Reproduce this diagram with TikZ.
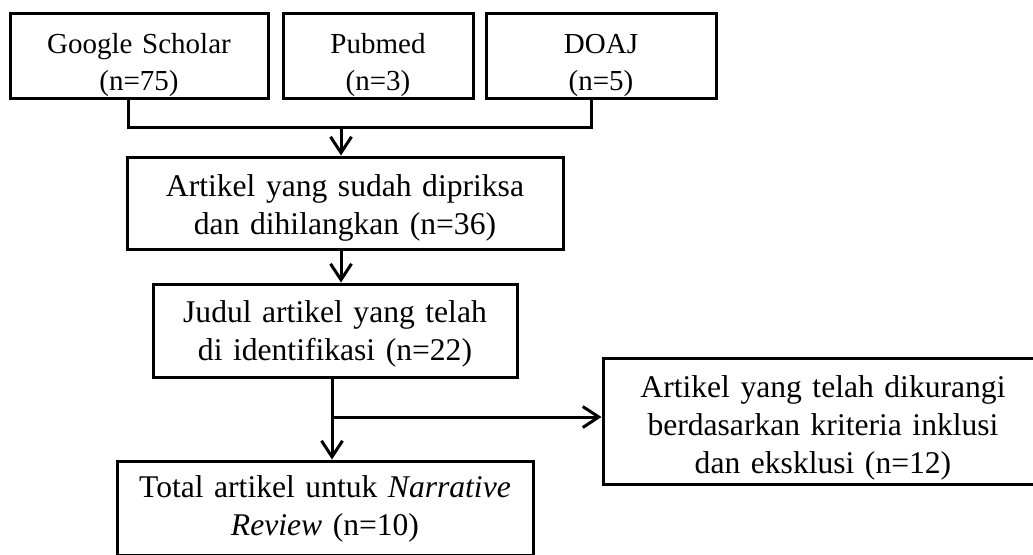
\documentclass[tikz,border=0pt]{standalone}
\usepackage{fontspec}
\setmainfont{Liberation Serif}
\usetikzlibrary{arrows.meta}

\begin{document}
\begin{tikzpicture}[x=0.5pt, y=-0.5pt,
	box/.style={draw, line width=1.5pt, inner sep=0pt, align=center, font=\fontsize{15.8}{19}\selectfont},
	srcbox/.style={box, font=\fontsize{14.5}{18.5}\selectfont, text height=20pt, text depth=22.5pt},
	link/.style={line width=1.5pt},
	arrow/.style={line width=1.5pt, -{Straight Barb[length=8pt, width=10.5pt]}}]
	\useasboundingbox (0,0) rectangle (1033,554);

	\node[srcbox, text width=129pt](scholar) at (139,55.5){Google Scholar\\(n=75)};
	\node[srcbox, text width=95pt](pubmed) at (378,55.5){Pubmed\\(n=3)};
	\node[srcbox, text width=115pt](doaj) at (601,55.5){DOAJ\\(n=5)};

	\node[box, text width=218pt, text height=19.5pt, text depth=26.5pt](checked) at (345,203){Artikel yang sudah dipriksa\\dan dihilangkan (n=36)};
	\node[box, text width=182pt, text height=19pt, text depth=27.5pt](titled) at (335,330.5){Judul artikel yang telah\\di identifikasi (n=22)};
	\node[box, text width=220pt, text height=19.5pt, text depth=43.5pt](excluded) at (823,421){Artikel yang telah dikurangi\\berdasarkan kriteria inklusi\\dan eksklusi (n=12)};
	\node[box, text width=208pt, text height=18pt, text depth=29pt](total) at (325,508){Total artikel untuk \textit{Narrative}\\\textit{Review} (n=10)};

	\coordinate (merge) at (341,127);
	\coordinate (split) at (332,417);

	\draw [link] ([xshift=-5.5pt]scholar.south) |- (merge) -| ([xshift=-5pt]doaj.south);
	\draw [arrow] (merge) -- (checked.north -| merge);
	\draw [arrow] (checked.south -| merge) -- (titled.north -| merge);
	\draw [link] (titled.south -| split) -- (split);
	\draw [arrow] (split) -- (total.north -| split);
	\draw [arrow] (split) -- (split -| excluded.west);

\end{tikzpicture}
\end{document}
